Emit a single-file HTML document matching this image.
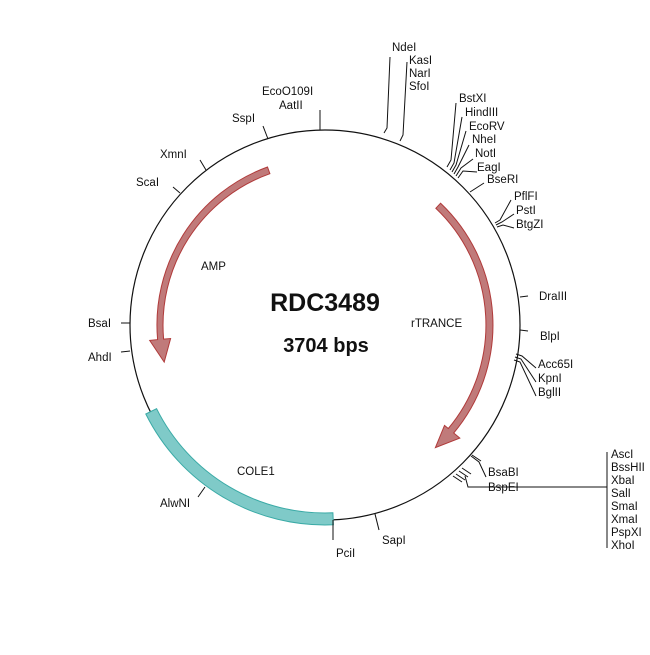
<!DOCTYPE html>
<html><head><meta charset="utf-8"><style>
html,body{margin:0;padding:0;background:#fff;}
svg text{font-family:"Liberation Sans",Arial,sans-serif;font-size:11.5px;fill:#111;}
</style></head><body>
<svg width="650" height="650" viewBox="0 0 650 650" xmlns="http://www.w3.org/2000/svg">
<rect width="650" height="650" fill="#fff"/>
<circle cx="325" cy="325" r="195" fill="none" stroke="#111" stroke-width="1.2"/>
<path d="M145.8,414 A200,200 0 0 0 333.4,524.8 L332.9,512.8 A188,188 0 0 1 156.6,408.7 Z" fill="#7fcac8" stroke="#3aaaa6" stroke-width="1"/>
<path d="M267.5,167 A168,168 0 0 0 157.6,339.6 L149.7,340.4 L164.2,362.1 L170.6,338.5 L163.6,339.1 A161,161 0 0 1 269.9,173.7 Z" fill="#c07a7a" stroke="#b03a3a" stroke-width="1"/>
<path d="M440.6,203.2 A168,168 0 0 1 453.7,433 L459.8,438.1 L435.4,447.6 L444.5,425.4 L448.3,428.5 A161,161 0 0 0 435.8,208.3 Z" fill="#c07a7a" stroke="#b03a3a" stroke-width="1"/>
<g stroke="#111" stroke-width="1" fill="none">
<polyline points="384,133 387,128 390,57"/>
<polyline points="400,141 403,135 407,62"/>
<polyline points="447,167 451,160 456,103"/>
<polyline points="450,170 454,163 462,117"/>
<polyline points="452,172 456,165 466,131"/>
<polyline points="454,174 458,167 469,145"/>
<polyline points="456,176 461,168 473,159"/>
<polyline points="458,178 463,171 477,172"/>
<line x1="470" y1="192" x2="484" y2="183"/>
<polyline points="495,223 500,220 511,200"/>
<polyline points="496,225 502,222 514,214"/>
<polyline points="497,227 503,225 514,228"/>
<line x1="520" y1="297" x2="528" y2="296"/>
<line x1="520" y1="330" x2="528" y2="331"/>
<polyline points="516,354 522,356 536,368"/>
<polyline points="515,357 521,359 536,382"/>
<polyline points="514,360 520,362 536,396"/>
<polyline points="471,456 479,462 486,477"/>
<line x1="472" y1="455" x2="481" y2="461"/>
<line x1="462" y1="468" x2="471" y2="474"/>
<line x1="459" y1="471" x2="468" y2="477"/>
<line x1="456" y1="474" x2="465" y2="480"/>
<line x1="453" y1="476" x2="462" y2="482"/>
<polyline points="465,476 468,487 607,487"/>
<line x1="607" y1="452" x2="607" y2="548"/>
<line x1="375" y1="514" x2="379" y2="530"/>
<line x1="333" y1="520" x2="333" y2="540"/>
<line x1="205" y1="487" x2="198" y2="497"/>
<line x1="130" y1="351" x2="121" y2="352"/>
<line x1="130" y1="323" x2="121" y2="323"/>
<line x1="180" y1="193" x2="173" y2="187"/>
<line x1="206" y1="170" x2="200" y2="160"/>
<line x1="268" y1="139" x2="263" y2="126"/>
<line x1="320" y1="130" x2="320" y2="110"/>
</g>
<text x="392" y="51">NdeI</text>
<text x="409" y="64">KasI</text>
<text x="409" y="77">NarI</text>
<text x="409" y="90">SfoI</text>
<text x="459" y="102">BstXI</text>
<text x="465" y="116">HindIII</text>
<text x="469" y="130">EcoRV</text>
<text x="472" y="143">NheI</text>
<text x="475" y="157">NotI</text>
<text x="477" y="171">EagI</text>
<text x="487" y="183">BseRI</text>
<text x="514" y="200">PflFI</text>
<text x="516" y="214">PstI</text>
<text x="516" y="228">BtgZI</text>
<text x="539" y="300">DraIII</text>
<text x="540" y="340">BlpI</text>
<text x="538" y="368">Acc65I</text>
<text x="538" y="382">KpnI</text>
<text x="538" y="396">BglII</text>
<text x="488" y="476">BsaBI</text>
<text x="488" y="491">BspEI</text>
<text x="611" y="458">AscI</text>
<text x="611" y="471">BssHII</text>
<text x="611" y="484">XbaI</text>
<text x="611" y="497">SalI</text>
<text x="611" y="510">SmaI</text>
<text x="611" y="523">XmaI</text>
<text x="611" y="536">PspXI</text>
<text x="611" y="549">XhoI</text>
<text x="382" y="544">SapI</text>
<text x="336" y="557">PciI</text>
<text x="160" y="507">AlwNI</text>
<text x="88" y="361">AhdI</text>
<text x="88" y="327">BsaI</text>
<text x="136" y="186">ScaI</text>
<text x="160" y="158">XmnI</text>
<text x="232" y="122">SspI</text>
<text x="262" y="95">EcoO109I</text>
<text x="279" y="109">AatII</text>
<text x="201" y="270">AMP</text>
<text x="411" y="327">rTRANCE</text>
<text x="237" y="475">COLE1</text>
<text x="325" y="311" text-anchor="middle" style="font-size:25px;font-weight:bold">RDC3489</text>
<text x="326" y="352" text-anchor="middle" style="font-size:20px;font-weight:bold">3704 bps</text>
</svg>
</body></html>
